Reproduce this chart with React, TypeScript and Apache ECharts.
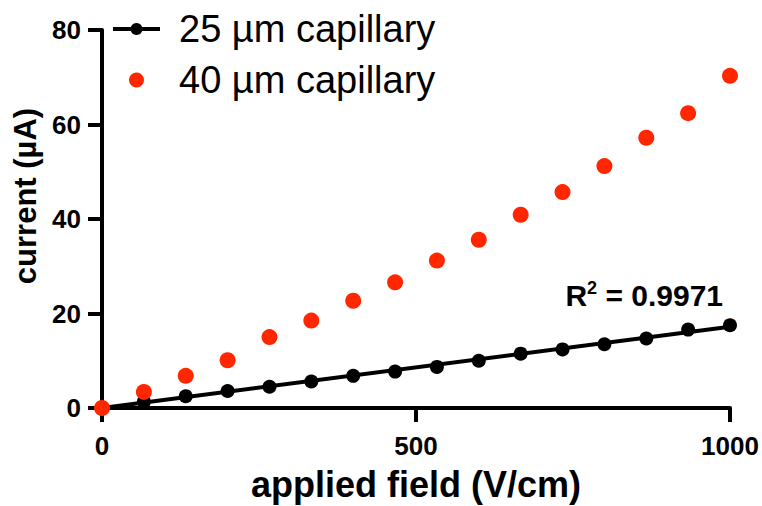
import React, { useEffect, useRef } from "react";
import * as echarts from "echarts";

const fieldValues = [0, 66.7, 133.3, 200, 266.7, 333.3, 400, 466.7, 533.3, 600, 666.7, 733.3, 800, 866.7, 933.3, 1000];
const current25 = [0, 1.3, 2.5, 3.6, 4.5, 5.6, 6.8, 7.7, 8.7, 10.0, 11.5, 12.4, 13.5, 14.7, 16.6, 17.5];
const current40 = [0, 3.4, 6.8, 10.1, 15.0, 18.5, 22.7, 26.6, 31.2, 35.6, 40.9, 45.7, 51.2, 57.2, 62.4, 70.3];
const fitX = [0, 1000];
const fitY = [0, 17.2];
const seriesNames = ["25 µm capillary", "40 µm capillary"];
const r2Text = "0.9971";

const FONT = "'Liberation Sans', Arial, Helvetica, sans-serif";

export default function App() {
  const ref = useRef<HTMLDivElement>(null);
  useEffect(() => {
    if (!ref.current) return;
    const chart = echarts.init(ref.current, undefined, { renderer: "svg" });
    const pts25 = fieldValues.map((x, i) => [x, current25[i]]);
    const pts40 = fieldValues.map((x, i) => [x, current40[i]]);
    const fit = fitX.map((x, i) => [x, fitY[i]]);
    chart.setOption({
      animation: false,
      backgroundColor: "#fff",
      textStyle: { fontFamily: FONT },
      grid: { left: 102, right: 32, top: 30, bottom: 98, containLabel: false, outerBoundsMode: "none" },
      legend: {
        orient: "vertical",
        left: 106,
        top: 3,
        itemWidth: 47,
        itemHeight: 15,
        itemGap: 9,
        data: seriesNames,
        lineStyle: { width: 4, color: "#000" },
        textStyle: {
          fontSize: 38,
          color: "#000",
          fontFamily: FONT,
          lineHeight: 42,
          padding: [0, 0, 0, 14],
        },
      },
      xAxis: {
        type: "value",
        min: 0,
        max: 1000,
        interval: 500,
        name: "applied field (V/cm)",
        nameLocation: "middle",
        nameGap: 58,
        nameTextStyle: { fontSize: 36, fontWeight: "bold", color: "#000", fontFamily: FONT },
        axisLine: { show: true, onZero: false, lineStyle: { color: "#000", width: 4 } },
        axisTick: { show: true, length: 14, lineStyle: { color: "#000", width: 4 } },
        axisLabel: {
          fontSize: 26,
          fontWeight: "bold",
          color: "#000",
          margin: 25,
          fontFamily: FONT,
          formatter: (v: number) => String(v),
        },
        splitLine: { show: false },
      },
      yAxis: {
        type: "value",
        min: 0,
        max: 80,
        interval: 20,
        name: "current (µA)",
        nameLocation: "middle",
        nameGap: 61,
        nameTextStyle: {
          fontSize: 31,
          fontWeight: "bold",
          color: "#000",
          fontFamily: FONT,
          padding: [0, 0, 0, 46],
        },
        axisLine: { show: true, lineStyle: { color: "#000", width: 4 } },
        axisTick: { show: true, length: 14, lineStyle: { color: "#000", width: 4 } },
        axisLabel: {
          fontSize: 26,
          fontWeight: "bold",
          color: "#000",
          margin: 21,
          fontFamily: FONT,
          formatter: (v: number) => String(v),
        },
        splitLine: { show: false },
      },
      graphic: [
        {
          type: "text",
          right: 39,
          top: 279,
          style: {
            text: "{r|R}{s|2}{r| = " + r2Text + "}",
            rich: {
              r: { fontSize: 30, fontWeight: "bold", fill: "#000", fontFamily: FONT, lineHeight: 33 },
              s: { fontSize: 18, fontWeight: "bold", fill: "#000", fontFamily: FONT, verticalAlign: "top", lineHeight: 33 },
            },
          },
        },
      ],
      series: [
        {
          type: "line",
          name: seriesNames[0],
          data: fit,
          symbol: "circle",
          showSymbol: false,
          lineStyle: { color: "#000", width: 4 },
          itemStyle: { color: "#000" },
          z: 2,
        },
        {
          type: "scatter",
          name: seriesNames[0],
          data: pts25,
          symbolSize: 14,
          itemStyle: { color: "#000", opacity: 1 },
          z: 3,
        },
        {
          type: "scatter",
          name: seriesNames[1],
          data: pts40,
          symbolSize: 16,
          itemStyle: { color: "#ff2600", opacity: 1 },
          z: 4,
        },
      ],
    });
    return () => chart.dispose();
  }, []);
  return (
    <div
      ref={ref}
      style={{ position: "fixed", left: 0, top: 0, width: 762, height: 506, background: "#fff" }}
    />
  );
}
